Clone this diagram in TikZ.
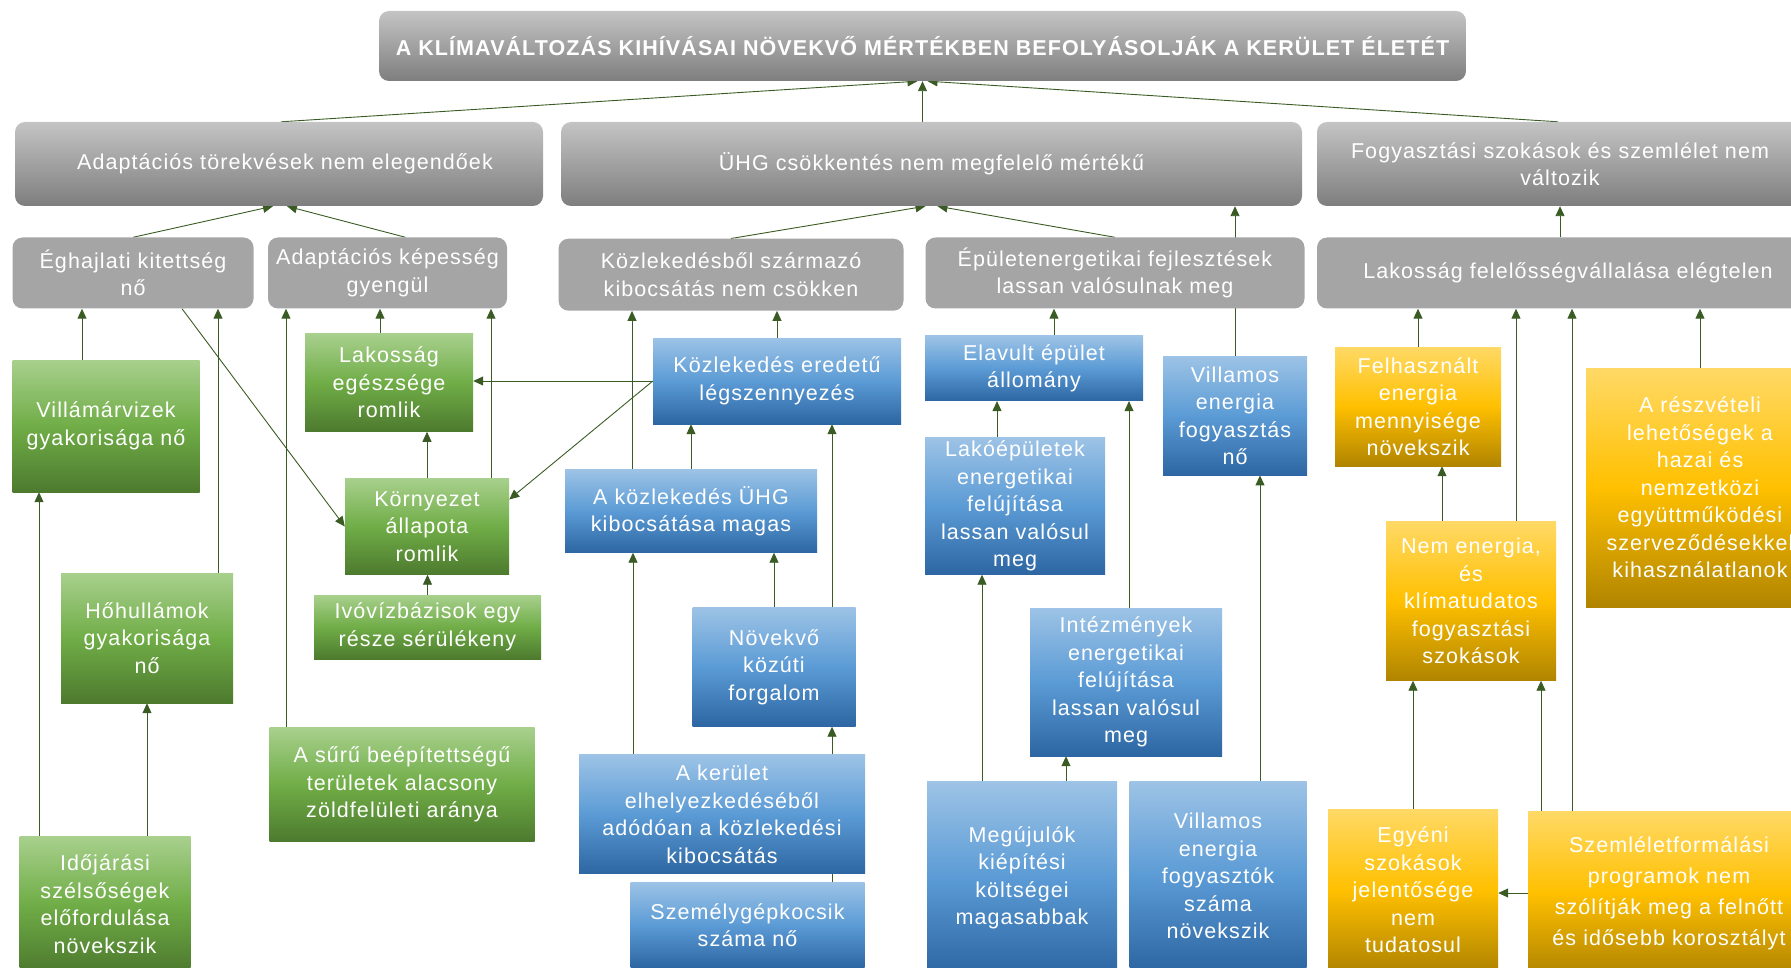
\documentclass[tikz,border=0pt]{standalone}
\usepackage{fontspec}
\setmainfont{Liberation Sans}[LetterSpace=5]
\usetikzlibrary{positioning, arrows.meta}

\definecolor{arrowgreen}{HTML}{3A5C24}
\definecolor{grayTop}{HTML}{C4C4C4}
\definecolor{grayBot}{HTML}{7E7E7E}
\definecolor{grayFlat}{HTML}{A5A5A5}
\definecolor{greenTop}{HTML}{A8D08D}
\definecolor{greenMid}{HTML}{70AD47}
\definecolor{greenBot}{HTML}{4D7A2E}
\definecolor{blueTop}{HTML}{9DC3E6}
\definecolor{blueMid}{HTML}{5B9BD5}
\definecolor{blueBot}{HTML}{2D66A2}
\definecolor{yellowTop}{HTML}{FFD966}
\definecolor{yellowMid}{HTML}{FFC000}
\definecolor{yellowBot}{HTML}{B08400}

\pgfdeclarelayer{background}
\pgfsetlayers{background,main}

\tikzset{
  box/.style={text=white, align=center, inner sep=2pt, font=\fontsize{21.5}{27.5}\selectfont},
  sz/.style 2 args={minimum width=#1pt, minimum height=#2pt},
  titlebox/.style={box, rounded corners=10pt, top color=grayTop, bottom color=grayBot, font=\fontsize{21.5}{25}\selectfont\bfseries},
  graybox/.style={box, rounded corners=10pt, top color=grayTop, bottom color=grayBot},
  flatbox/.style={box, rounded corners=10pt, fill=grayFlat},
  greenbox/.style={box, top color=greenTop, bottom color=greenBot, middle color=greenMid},
  bluebox/.style={box, top color=blueTop, bottom color=blueBot, middle color=blueMid},
  yellowbox/.style={box, top color=yellowTop, bottom color=yellowBot, middle color=yellowMid},
  arr/.style={-{Triangle[length=10pt,width=9pt]}, draw=arrowgreen, line width=0.9pt},
  link/.style={draw=arrowgreen, line width=0.9pt}
}

\begin{document}
\begin{tikzpicture}[x=1pt, y=-1pt]

\useasboundingbox (0,0) rectangle (1791,968);
\clip (0,0) rectangle (1791,968);

% title and first level
\node[titlebox, sz={1087}{70}] (title) at (922.5,46) {A KLÍMAVÁLTOZÁS KIHÍVÁSAI NÖVEKVŐ MÉRTÉKBEN BEFOLYÁSOLJÁK A KERÜLET ÉLETÉT};

\node[graybox, sz={528}{84}] (adapt) at (279,164) {\hspace*{12pt}Adaptációs törekvések nem elegendőek};
\node[graybox, sz={741}{84}] (uhg) at (931.5,164) {ÜHG csökkentés nem megfelelő mértékű};
\node[graybox, sz={486}{84}] (fogy) at (1560,164) {Fogyasztási szokások és szemlélet nem\\változik};

% second level
\node[flatbox, sz={241}{71}] (eghaj) at (133,273) {Éghajlati kitettség\\nő};
\node[flatbox, sz={239}{71}] (adkep) at (387.5,273) {Adaptációs képesség\\gyengül};
\node[flatbox, sz={345}{72}] (kozl) at (731,274.7) {Közlekedésből származó\\kibocsátás nem csökken};
\node[flatbox, sz={379}{71}] (epulet) at (1115,273) {Épületenergetikai fejlesztések\\lassan valósulnak meg};
\node[flatbox, sz={502}{71}] (lakfel) at (1568,273) {Lakosság felelősségvállalása elégtelen};

% green causes
\node[greenbox, sz={187}{132}] (villam) at (106,426) {Villámárvizek\\gyakorisága nő};
\node[greenbox, sz={168}{98}] (lakeg) at (389,382.6) {Lakosság\\egészsége\\romlik};
\node[greenbox, sz={164}{96}] (korny) at (427,526.5) {Környezet\\állapota\\romlik};
\node[greenbox, sz={227}{64}] (ivoviz) at (427.5,627) {Ivóvízbázisok egy\\része sérülékeny};
\node[greenbox, sz={172}{130}] (hohull) at (147,638) {Hőhullámok\\gyakorisága\\nő};
\node[greenbox, sz={265}{114}] (suru) at (402,784.7) {A sűrű beépítettségű\\területek alacsony\\zöldfelületi aránya};
\node[greenbox, sz={171}{135}] (idojar) at (105,904) {Időjárási\\szélsőségek\\előfordulása\\növekszik};

% blue causes
\node[bluebox, sz={248}{86}] (kozler) at (777,381) {Közlekedés eredetű\\légszennyezés};
\node[bluebox, sz={252}{83}] (kozluhg) at (691,511) {A közlekedés ÜHG\\kibocsátása magas};
\node[bluebox, sz={163}{119}] (novekvo) at (774,667) {Növekvő\\közúti\\forgalom};
\node[bluebox, sz={286}{119}] (kerulet) at (722,814.4) {A kerület\\elhelyezkedéséből\\adódóan a közlekedési\\kibocsátás};
\node[bluebox, sz={234}{86}] (szemely) at (747.5,925) {Személygépkocsik\\száma nő};
\node[bluebox, sz={218}{65}] (elavult) at (1034,368.4) {Elavult épület\\állomány};
\node[bluebox, sz={180}{137}] (lakoep) at (1015,506) {Lakóépületek\\energetikai\\felújítása\\lassan valósul\\meg};
\node[bluebox, sz={144}{119}] (villfogy) at (1235,415.7) {Villamos\\energia\\fogyasztás\\nő};
\node[bluebox, sz={192}{148}] (intezm) at (1126,682) {Intézmények\\energetikai\\felújítása\\lassan valósul\\meg};
\node[bluebox, sz={190}{193}] (megujul) at (1022,878) {Megújulók\\kiépítési\\költségei\\magasabbak};
\node[bluebox, sz={177}{190}] (villszam) at (1218,876) {Villamos\\energia\\fogyasztók\\száma\\növekszik};

% yellow causes
\node[yellowbox, sz={166}{119}] (felhasz) at (1418,406.5) {Felhasznált\\energia\\mennyisége\\növekszik};
\node[yellowbox, sz={228}{239}] (reszvet) at (1700,487.5) {A részvételi\\lehetőségek a\\hazai és\\nemzetközi\\együttműködési\\szerveződésekkel\\kihasználatlanok};
\node[yellowbox, sz={170}{159}] (nemen) at (1471,601) {Nem energia,\\és\\klímatudatos\\fogyasztási\\szokások};
\node[yellowbox, sz={170}{162}] (egyeni) at (1413,890) {Egyéni\\szokások\\jelentősége\\nem\\tudatosul};
\node[yellowbox, sz={282}{163}, font=\fontsize{21.5}{31}\selectfont] (szemlel) at (1669,893) {Szemléletformálási\\programok nem\\szólítják meg a felnőtt\\és idősebb korosztályt};

\begin{pgfonlayer}{background}
% to the title
\draw[arr] ([xshift=2pt]adapt.north) -- ([xshift=-5pt]title.south);
\draw[arr] (title.south |- uhg.north) -- (title.south);
\draw[arr] ([xshift=-2pt]fogy.north) -- ([xshift=5pt]title.south);
% to the first level
\draw[arr] (eghaj.north) -- ([xshift=-6pt]adapt.south);
\draw[arr] ([xshift=18pt]adkep.north) -- ([xshift=8pt]adapt.south);
\draw[arr] (kozl.north) -- ([xshift=-6pt]uhg.south);
\draw[arr] (epulet.north) -- ([xshift=6pt]uhg.south);
\draw[arr] (villfogy.north) -- (villfogy.north |- uhg.south);
\draw[arr] (fogy.south |- lakfel.north) -- (fogy.south);
% green side
\draw[arr] (villam.north -| 82,0) -- (eghaj.south -| 82,0);
\draw[arr] (hohull.north -| 218,0) -- (eghaj.south -| 218,0);
\draw[arr] (idojar.north -| 39,0) -- (villam.south -| 39,0);
\draw[arr] (hohull.south |- idojar.north) -- (hohull.south);
\draw[arr] ([xshift=49pt]eghaj.south) -- (korny.west);
\draw[arr] (suru.north -| 286,0) -- (adkep.south -| 286,0);
\draw[arr] (lakeg.north -| 380,0) -- (adkep.south -| 380,0);
\draw[arr] (korny.north -| 491,0) -- (adkep.south -| 491,0);
\draw[arr] (korny.north) -- (korny.north |- lakeg.south);
\draw[arr] (ivoviz.north) -- (ivoviz.north |- korny.south);
\draw[arr] (kozler.west) -- (kozler.west -| lakeg.east);
\draw[arr] (kozler.west) -- ([yshift=27pt]korny.east);
% blue side
\draw[arr] (kozluhg.north -| 632,0) -- (kozl.south -| 632,0);
\draw[arr] (kozler.north) -- (kozler.north |- kozl.south);
\draw[arr] (kozluhg.north) -- (kozluhg.north |- kozler.south);
\draw[arr] (novekvo.north -| 832,0) -- (kozler.south -| 832,0);
\draw[arr] (novekvo.north) -- (novekvo.north |- kozluhg.south);
\draw[arr] (kerulet.north -| 633,0) -- (kozluhg.south -| 633,0);
\draw[arr] (kerulet.north -| 832,0) -- (novekvo.south -| 832,0);
\draw[link] (szemely.north -| 832,0) -- (kerulet.south -| 832,0);
\draw[arr] (elavult.north -| 1054,0) -- (epulet.south -| 1054,0);
\draw[arr] (lakoep.north -| 997,0) -- (elavult.south -| 997,0);
\draw[arr] (intezm.north -| 1129,0) -- (elavult.south -| 1129,0);
\draw[arr] (megujul.north -| 982,0) -- (lakoep.south -| 982,0);
\draw[arr] (megujul.north -| 1066,0) -- (intezm.south -| 1066,0);
\draw[arr] (villszam.north -| 1260,0) -- (villfogy.south -| 1260,0);
% yellow side
\draw[arr] (felhasz.north) -- (felhasz.north |- lakfel.south);
\draw[arr] (nemen.north -| 1442,0) -- (felhasz.south -| 1442,0);
\draw[arr] (nemen.north -| 1516,0) -- (lakfel.south -| 1516,0);
\draw[arr] (szemlel.north -| 1572,0) -- (lakfel.south -| 1572,0);
\draw[arr] (reszvet.north) -- (reszvet.north |- lakfel.south);
\draw[arr] (egyeni.north) -- (egyeni.north |- nemen.south);
\draw[arr] (szemlel.north -| 1541,0) -- (nemen.south -| 1541,0);
\draw[arr] (szemlel.west) -- (szemlel.west -| egyeni.east);
\end{pgfonlayer}

\end{tikzpicture}
\end{document}
